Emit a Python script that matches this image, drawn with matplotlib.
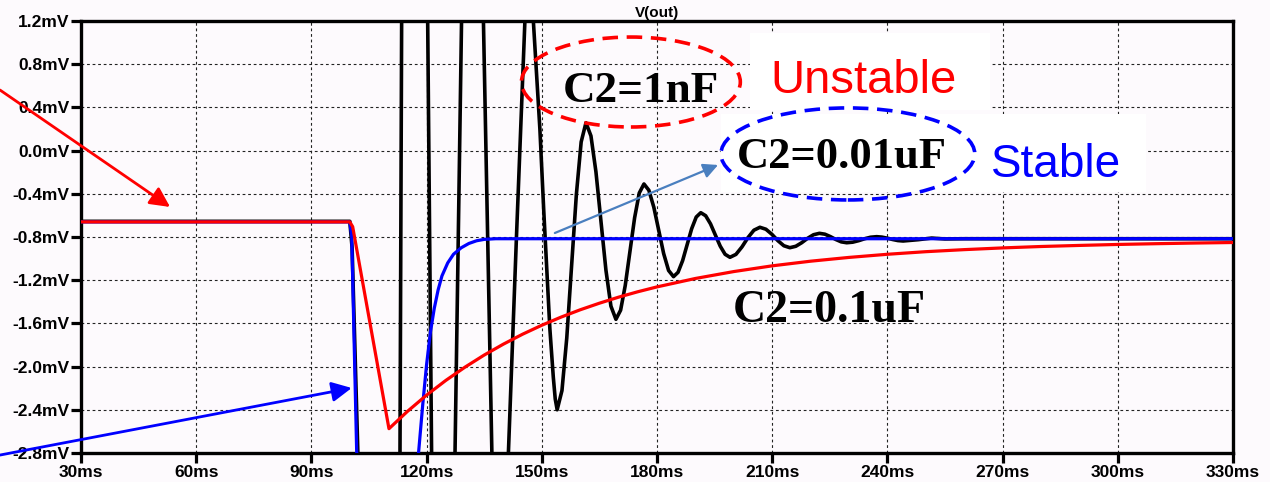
import matplotlib
matplotlib.use("Agg")
import matplotlib.pyplot as plt
from matplotlib.patches import Ellipse, Rectangle

# ---------------- data ----------------
# time in ms, voltage in mV
red_t = [30, 100, 100.75, 110.2, 115, 120, 125, 130, 135, 140, 145, 150, 155, 160, 165,
         170, 175, 180, 190, 200, 210, 220, 230, 240, 250, 260, 270, 280, 290, 300,
         310, 320, 330]
red_v = [-0.66, -0.66, -0.705, -2.575, -2.415, -2.264, -2.128, -2.005, -1.893, -1.792,
         -1.700, -1.617, -1.542, -1.474, -1.413, -1.357, -1.307, -1.262, -1.184, -1.120,
         -1.067, -1.024, -0.989, -0.960, -0.936, -0.917, -0.901, -0.888, -0.878, -0.869,
         -0.862, -0.856, -0.851]

blue_t = [30, 100, 100.5, 101.8, 102.5, 117.5, 117.9, 119.0, 120.0, 121.0, 122.0, 123.0,
          124.0, 125.5, 127.0, 129.0, 131.0, 133.0, 135.0, 138.0, 330]
blue_v = [-0.66, -0.66, -0.80, -2.80, -3.50, -3.30, -2.80, -2.35, -1.98, -1.68, -1.46,
          -1.29, -1.16, -1.04, -0.96, -0.90, -0.86, -0.835, -0.822, -0.816, -0.816]

black_t = [30, 100, 100.6, 102.1, 104.0, 107.5, 113.07, 113.5, 117.0, 120.28, 121.3,
           124.3, 127.4, 129.1, 132.0, 134.8, 137.0, 139.0, 141.3, 143.4, 145.6, 146.7,
           147.8, 149.5, 150.5, 151.3, 152.1, 153.0, 153.5, 154.0,
           155.25, 156.5, 157.75, 159.0, 160.25, 161.5,
           162.8, 164.1, 165.4, 166.7, 168.0, 169.3,
           170.52, 171.73, 172.95, 174.17, 175.38, 176.6,
           177.88, 179.17, 180.45, 181.73, 183.02, 184.3,
           185.48, 186.67, 187.85, 189.03, 190.22, 191.4,
           192.67, 193.93, 195.2, 196.47, 197.73, 199.0,
           200.56, 202.12, 203.68, 205.24, 206.8,
           208.36, 209.92, 211.48, 213.04, 214.6,
           216.14, 217.68, 219.22, 220.76, 222.3,
           223.72, 225.14, 226.56, 227.98, 229.4,
           230.96, 232.52, 234.08, 235.64, 237.2,
           238.58, 239.96, 241.34, 242.72, 244.1,
           248.0, 251.5, 255.0, 260.0, 330]
black_v = [-0.655, -0.655, -0.90, -2.80, -6.0, -9.5, -2.80, 1.20, 9.0, 1.20, -2.80,
           -7.0, -2.80, 1.20, 4.5, 1.20, -2.80, -4.3, -2.80, -0.80, 1.20, 1.45,
           1.20, 0.20, -0.55, -1.10, -1.65, -2.10, -2.30, -2.40,
           -2.222, -1.736, -1.071, -0.407, 0.080, 0.258,
           0.136, -0.197, -0.652, -1.107, -1.440, -1.562,
           -1.478, -1.249, -0.935, -0.622, -0.393, -0.309,
           -0.367, -0.524, -0.738, -0.953, -1.110, -1.167,
           -1.127, -1.019, -0.871, -0.723, -0.615, -0.575,
           -0.603, -0.678, -0.782, -0.885, -0.960, -0.988,
           -0.961, -0.892, -0.806, -0.737, -0.710,
           -0.728, -0.775, -0.834, -0.881, -0.899,
           -0.886, -0.853, -0.812, -0.779, -0.766,
           -0.774, -0.796, -0.823, -0.845, -0.853,
           -0.848, -0.834, -0.816, -0.802, -0.797,
           -0.801, -0.811, -0.823, -0.833, -0.837,
           -0.825, -0.810, -0.818, -0.816, -0.816]

x_ticks = [30, 60, 90, 120, 150, 180, 210, 240, 270, 300, 330]
x_labels = ["30ms", "60ms", "90ms", "120ms", "150ms", "180ms", "210ms", "240ms",
            "270ms", "300ms", "330ms"]
y_ticks = [-2.8, -2.4, -2.0, -1.6, -1.2, -0.8, -0.4, 0.0, 0.4, 0.8, 1.2]
y_labels = ["-2.8mV", "-2.4mV", "-2.0mV", "-1.6mV", "-1.2mV", "-0.8mV", "-0.4mV",
            "0.0mV", "0.4mV", "0.8mV", "1.2mV"]

# ---------------- figure ----------------
BG = "#fdfafd"
fig = plt.figure(figsize=(12.7, 4.82), dpi=100, facecolor=BG)
ax = fig.add_axes([81 / 1270, 1 - 453 / 482, (1233 - 81) / 1270, (453 - 21) / 482])
ax.set_facecolor(BG)
ax.set_xlim(30, 330)
ax.set_ylim(-2.8, 1.2)

ax.set_axisbelow(True)
ax.grid(True, color="#222222", linestyle=(0, (2.5, 2.5)), linewidth=0.8)

for s in ax.spines.values():
    s.set_linewidth(2.4)
    s.set_color("black")

ax.set_xticks(x_ticks)
ax.set_xticklabels(x_labels)
ax.set_yticks(y_ticks)
ax.set_yticklabels(y_labels)
ax.tick_params(direction="out", length=7, width=2.3, color="black", pad=1.5)
for lab in ax.get_xticklabels() + ax.get_yticklabels():
    lab.set_fontfamily("Liberation Sans")
    lab.set_fontweight("bold")
    lab.set_fontsize(12.5)

ax.set_title("V(out)", fontfamily="Liberation Sans", fontweight="bold", fontsize=11, pad=3)

# white text boxes (hide grid)
def px_to_data(x, y):
    return 30 + (x - 81) / 3.84, 1.2 - (y - 21) / 108.0

for (x0, y0, x1, y1) in [(750, 33, 990, 110), (721, 114, 1146, 192)]:
    tx0, vy0 = px_to_data(x0, y1)
    tx1, vy1 = px_to_data(x1, y0)
    ax.add_patch(Rectangle((tx0, vy0), tx1 - tx0, vy1 - vy0, facecolor="white",
                           edgecolor="none", zorder=1))

# curves
ax.plot(black_t, black_v, color="black", lw=2.6, zorder=3, solid_joinstyle="round")
ax.plot(blue_t, blue_v, color="#0000ff", lw=2.3, zorder=4, solid_joinstyle="round")
ax.plot(red_t, red_v, color="#ff0000", lw=2.3, zorder=5, solid_joinstyle="round")

# ellipses
ax.add_patch(Ellipse((173.2, 0.635), 57.0, 0.833, fill=False, edgecolor="#ff0000",
                     lw=2.6, linestyle=(0, (4.3, 2.4)), zorder=6))
ax.add_patch(Ellipse((229.7, -0.031), 66.1, 0.852, fill=False, edgecolor="#0000ff",
                     lw=2.6, linestyle=(0, (4.3, 2.4)), zorder=6))

# arrows
ax.annotate("", xy=(53.2, -0.522), xytext=(8.9, 0.561), annotation_clip=False,
            arrowprops=dict(arrowstyle="-|>", color="#ff0000", lw=2.0,
                            mutation_scale=30, shrinkA=0, shrinkB=0), zorder=7)
ax.annotate("", xy=(100.5, -2.198), xytext=(8.9, -2.819), annotation_clip=False,
            arrowprops=dict(arrowstyle="-|>", color="#0000ff", lw=2.0,
                            mutation_scale=30, shrinkA=0, shrinkB=0), zorder=7)
ax.annotate("", xy=(195.9, -0.133), xytext=(153.4, -0.763), annotation_clip=False,
            arrowprops=dict(arrowstyle="-|>", color="#4a7fbf", lw=1.6,
                            mutation_scale=22, shrinkA=0, shrinkB=0), zorder=7)

# texts
serif = "Liberation Serif"
ax.text(175.8, 0.45, "C2=1nF", fontfamily=serif, fontweight="bold", fontsize=32.5,
        ha="center", va="baseline", color="black", zorder=8)
ax.text(228.2, -0.161, "C2=0.01uF", fontfamily=serif, fontweight="bold", fontsize=32,
        ha="center", va="baseline", color="black", zorder=8)
ax.text(224.9, -1.587, "C2=0.1uF", fontfamily=serif, fontweight="bold", fontsize=33,
        ha="center", va="baseline", color="black", zorder=8)
ax.text(209.4, 0.533, "Unstable", fontfamily="Liberation Sans", fontsize=34,
        ha="left", va="baseline", color="#ff0000", zorder=8)
ax.text(267.0, -0.244, "Stable", fontfamily="Liberation Sans", fontsize=33,
        ha="left", va="baseline", color="#0000ff", zorder=8)

fig.savefig("out.png", dpi=100, facecolor=BG)
